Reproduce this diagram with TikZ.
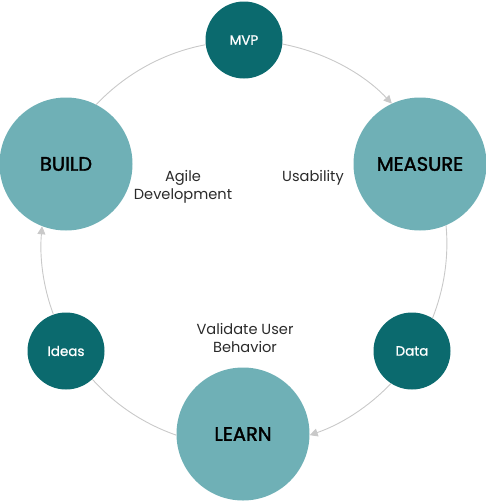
\documentclass[tikz,border=0pt]{standalone}
\usepackage{fontspec}
\setmainfont{Poppins}
\newfontfamily\semibf{Poppins}[RawFeature={embolden=1.8}]
\newfontfamily\mediumf{Poppins}[RawFeature={embolden=0.9}]
\usetikzlibrary{arrows.meta}
\definecolor{dteal}{HTML}{0B6A6E}
\definecolor{lteal}{HTML}{6FB0B6}
\definecolor{linegray}{HTML}{C9C9C9}
\definecolor{txt}{HTML}{2A2A2A}
\tikzset{
  bigcirc/.style={circle,fill=lteal,minimum size=133pt,inner sep=0pt,font=\semibf\fontsize{19.5}{22}\selectfont,text=black},
  smallcirc/.style={circle,fill=dteal,minimum size=77pt,inner sep=0pt,font=\mediumf\fontsize{13.5}{16}\selectfont,text=white},
  lbl/.style={align=center,font=\fontsize{14.6}{18}\selectfont,text=txt},
  conn/.style={draw=linegray,line width=0.9pt,looseness=0.87},
  arr/.style={conn,-{Triangle[width=8pt,length=8pt,fill=linegray]}}
}
\begin{document}
\begin{tikzpicture}[x=1pt,y=1pt]
\path[use as bounding box] (0,0) rectangle (486,-501);
\node[smallcirc] (mvp) at (244,-40) {MVP};
\node[bigcirc] (build) at (66,-164) {BUILD};
\node[bigcirc] (measure) at (420,-164) {MEASURE};
\node[bigcirc] (learn) at (243,-434) {LEARN};
\node[smallcirc] (ideas) at (66,-351) {Ideas};
\node[smallcirc] (data) at (412,-351) {Data};
\node[lbl] (agile) at (183,-187) {Agile\\Development};
\node[lbl] (usab) at (313,-178) {Usability};
\node[lbl] (valid) at (245,-338) {Validate User\\Behavior};
\draw[conn] (build.63.4) to[out=46.7,in=190.6] (mvp.-173.7);
\draw[arr] (mvp.-6.5) to[out=-10.9,in=133.4] (measure.115.9);
\draw[conn] (measure.-67.3) to[out=-84.8,in=68.4] (data.58.2);
\draw[arr] (data.-123.1) to[out=-133.4,in=19] (learn.-1.5);
\draw[conn] (learn.181.1) to[out=160.8,in=311.8] (ideas.-47);
\draw[arr] (ideas.109.3) to[out=110.5,in=264.9] (build.-111.8);
\end{tikzpicture}
\end{document}
